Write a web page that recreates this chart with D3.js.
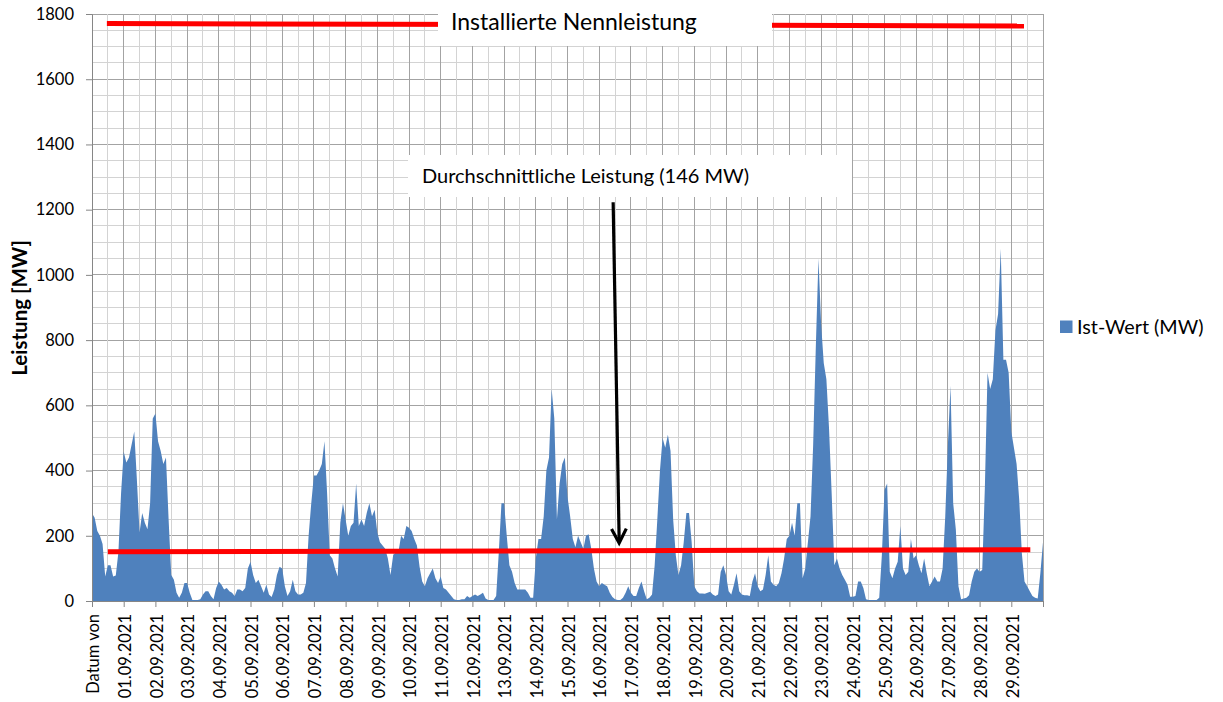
<!DOCTYPE html>
<html><head><meta charset="utf-8">
<script src="https://cdn.jsdelivr.net/npm/d3@7"></script>
<style>body{margin:0;background:#fff} svg{display:block} text{font-family:Lato, "Open Sans", sans-serif; fill:#000}</style>
</head><body><svg id="c" width="1223" height="702"></svg>
<script>
// ---- data ----
const dayLabels = ["Datum von","01.09.2021","02.09.2021","03.09.2021","04.09.2021","05.09.2021","06.09.2021","07.09.2021","08.09.2021","09.09.2021","10.09.2021","11.09.2021","12.09.2021","13.09.2021","14.09.2021","15.09.2021","16.09.2021","17.09.2021","18.09.2021","19.09.2021","20.09.2021","21.09.2021","22.09.2021","23.09.2021","24.09.2021","25.09.2021","26.09.2021","27.09.2021","28.09.2021","29.09.2021"];
const yTicks = [0,200,400,600,800,1000,1200,1400,1600,1800];
const stepsPerDay = 12; // values every 2 hours
const istWert = [
 269,255,215,200,175,75,110,110,75,78,150,330,
 458,425,440,480,520,370,210,270,240,220,300,560,
 575,490,460,420,440,250,80,65,25,10,25,55,
 55,25,3,3,3,5,20,30,30,15,5,40,
 60,50,35,40,30,25,15,35,35,30,40,100,
 120,80,55,65,45,25,50,20,12,35,80,105,
 100,45,15,30,65,30,20,20,25,55,200,300,
 385,385,400,420,490,330,140,130,100,75,240,300,
 250,200,230,240,360,230,250,230,270,300,260,280,
 210,180,170,160,130,80,140,150,150,200,190,230,
 225,215,190,170,105,60,45,70,85,100,70,55,
 75,40,35,25,15,5,3,3,5,5,15,10,
 15,20,15,20,25,8,3,3,3,15,150,300,
 300,200,110,90,55,35,35,35,35,25,10,10,
 130,190,190,260,400,440,650,560,250,360,420,440,
 320,260,190,165,200,180,160,200,205,160,100,60,
 45,55,50,45,25,12,5,3,3,10,25,45,
 25,15,15,40,60,30,5,10,20,110,250,400,
 500,470,510,460,250,140,80,110,180,270,270,180,
 45,30,23,23,22,25,28,20,15,20,90,110,
 80,30,20,50,85,30,20,18,18,15,60,85,
 45,30,35,80,140,60,50,45,55,85,130,190,
 200,240,200,300,300,70,100,180,260,480,780,1050,
 850,730,680,530,330,110,130,100,80,65,50,13,
 13,15,60,60,40,5,3,3,3,3,10,140,
 340,360,90,70,100,120,230,100,80,90,190,130,
 140,110,85,130,85,45,60,75,60,60,100,260,
 480,660,300,220,45,5,8,10,18,60,90,100,
 90,95,350,700,650,680,830,880,1080,740,740,700,
 520,470,420,310,146,60,45,30,15,10,8,85,
 180
];
const nennleistung = [{day:0.47, mw:1771},{day:29.4, mw:1763}];
const durchschnitt = [{day:0.5, mw:151},{day:29.6, mw:157}];
const arrowFrom = {day:16.44, mw:1223}, arrowTo = {day:16.63, mw:178};
const seriesName = "Ist-Wert (MW)";
const yTitle = "Leistung [MW]";
const capLabel = "Installierte Nennleistung";
const avgLabel = "Durchschnittliche Leistung (146 MW)";

// ---- layout ----
const L = 92, R = 1043, T = 14, B = 601;
const svg = d3.select("#c");
const x = d3.scaleLinear().domain([0, 30]).range([L, R]);
const y = d3.scaleLinear().domain([0, 1800]).range([B, T]);

// grid
const g = svg.append("g");
d3.range(0, 1801, 50).forEach(v => {
  g.append("line").attr("x1", L).attr("x2", R).attr("y1", y(v)).attr("y2", y(v))
    .attr("stroke", v % 200 === 0 ? "#a3a3a3" : "#d3d3d3").attr("stroke-width", 1).attr("shape-rendering","crispEdges");
});
d3.range(0, 30.01, 0.5).forEach(d => {
  g.append("line").attr("x1", x(d)).attr("x2", x(d)).attr("y1", T).attr("y2", B)
    .attr("stroke", Number.isInteger(d) ? "#a3a3a3" : "#d3d3d3").attr("stroke-width", 1).attr("shape-rendering","crispEdges");
});

// area
const pts = istWert.map((v, i) => ({day: i / stepsPerDay, v}));
svg.append("path").datum(pts)
  .attr("fill", "#4F81BD")
  .attr("d", d3.area().x(d => x(d.day)).y0(y(0)).y1(d => y(d.v)).curve(d3.curveLinear));

// axes
const yAxis = d3.axisLeft(y).tickValues(yTicks).tickSize(6).tickPadding(12).tickFormat(d3.format("d"));
const ya = svg.append("g").attr("transform", `translate(${L},0)`).call(yAxis);
ya.select(".domain").attr("stroke", "#868686");
ya.selectAll(".tick line").attr("stroke", "#868686");
ya.selectAll(".tick text").attr("font-size", 16.5).attr("font-family", "Lato").attr("fill","#000");

const xAxis = d3.axisBottom(x).tickValues(d3.range(0, 31)).tickSize(6)
  .tickFormat(d => dayLabels[d] || "");
const xa = svg.append("g").attr("transform", `translate(0,${B})`).call(xAxis);
xa.select(".domain").attr("stroke", "#868686");
xa.selectAll(".tick line").attr("stroke", "#868686");
xa.selectAll(".tick text").attr("font-size", 16.5).attr("font-family", "Lato").attr("fill","#000")
  .attr("text-anchor", "end").attr("transform", "rotate(-90)")
  .attr("x", -13).attr("y", 1).attr("dy", "0.35em");

// y title
svg.append("text").attr("transform", `translate(27,${308}) rotate(-90)`)
  .attr("text-anchor", "middle").attr("font-weight", "bold").attr("font-size", 20.5).text(yTitle);

// legend
svg.append("rect").attr("x", 1060).attr("y", 320.5).attr("width", 12.5).attr("height", 12.5).attr("fill", "#4F81BD");
svg.append("text").attr("x", 1077).attr("y", 334).attr("font-size", 19.8).text(seriesName);

// red lines
const line = d3.line().x(d => x(d.day)).y(d => y(d.mw));
svg.append("path").datum(nennleistung).attr("d", line).attr("stroke", "#ff0000").attr("stroke-width", 5).attr("fill", "none");
svg.append("path").datum(durchschnitt).attr("d", line).attr("stroke", "#ff0000").attr("stroke-width", 5).attr("fill", "none");

// label boxes
svg.append("rect").attr("x", 438).attr("y", 2).attr("width", 334).attr("height", 44).attr("fill", "#fff");
svg.append("text").attr("x", 451).attr("y", 30).attr("font-size", 23).text(capLabel);
svg.append("rect").attr("x", 408).attr("y", 155).attr("width", 444).attr("height", 42).attr("fill", "#fff");
svg.append("text").attr("x", 422).attr("y", 183).attr("font-size", 20).text(avgLabel);

// arrow
const ax1 = x(arrowFrom.day), ay1 = y(arrowFrom.mw), ax2 = x(arrowTo.day), ay2 = y(arrowTo.mw);
svg.append("line").attr("x1", ax1).attr("y1", ay1).attr("x2", ax2).attr("y2", ay2 - 2)
  .attr("stroke", "#000").attr("stroke-width", 3.2);
const ang = Math.atan2(ay2 - ay1, ax2 - ax1);
const hl = 16, hw = 0.48;
svg.append("path")
  .attr("d", `M${ax2 - hl*Math.cos(ang - hw)},${ay2 - hl*Math.sin(ang - hw)} L${ax2},${ay2} L${ax2 - hl*Math.cos(ang + hw)},${ay2 - hl*Math.sin(ang + hw)}`)
  .attr("stroke", "#000").attr("stroke-width", 3.2).attr("fill", "none").attr("stroke-linejoin","miter");
</script></body></html>
